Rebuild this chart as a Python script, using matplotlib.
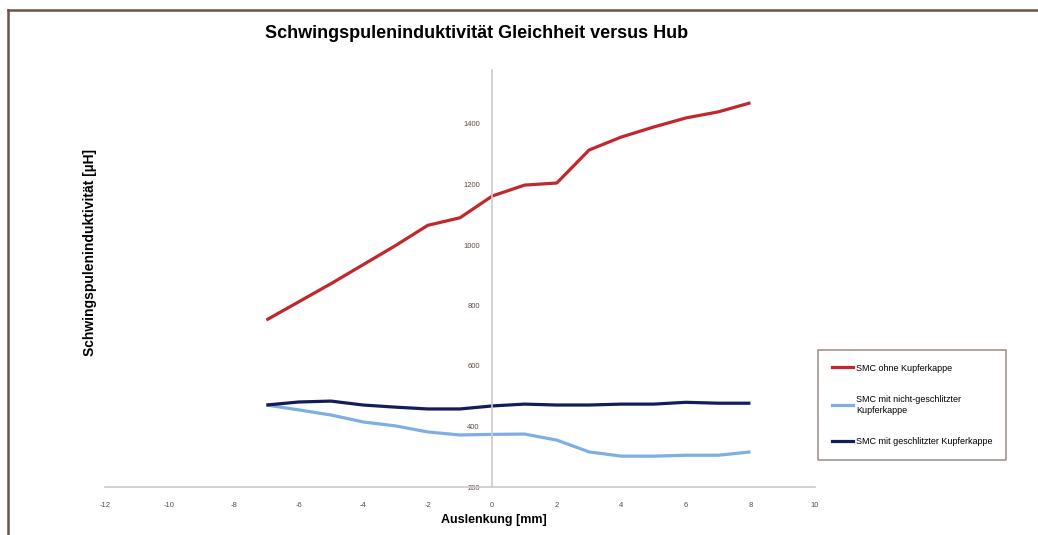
import numpy as np
import matplotlib
matplotlib.use("Agg")
from matplotlib import pyplot as plt
from matplotlib.lines import Line2D

# Auslenkung [mm]
hub = [-7, -6, -5, -4, -3, -2, -1, 0, 1, 2, 3, 4, 5, 6, 7, 8]
# Induktivitaet [uH]
ohne_kappe = [752, 812, 872, 935, 998, 1065, 1090, 1162, 1198, 1205, 1314, 1357, 1390, 1420, 1440, 1470]
nicht_geschlitzt = [471, 455, 438, 415, 402, 382, 372, 374, 375, 355, 316, 302, 302, 305, 305, 316]
geschlitzt = [471, 481, 484, 471, 464, 458, 458, 468, 474, 471, 471, 474, 474, 480, 477, 477]

labels = ["SMC ohne Kupferkappe",
          "SMC mit nicht-geschlitzter\nKupferkappe",
          "SMC mit geschlitzter Kupferkappe"]
xticks = [-12, -10, -8, -6, -4, -2, 0, 2, 4, 6, 8, 10]
yticks = [200, 400, 600, 800, 1000, 1200, 1400]

plt.rcParams['font.family'] = ['Liberation Sans', 'DejaVu Sans']

W, H = 1038, 535
fig = plt.figure(figsize=(W/100, H/100), dpi=100)
ax = fig.add_axes([105/W, (H-487)/H, 710/W, 417/H])

ax.plot(hub, ohne_kappe, color='#c1272d', lw=2.3, solid_capstyle='butt')
ax.plot(hub, nicht_geschlitzt, color='#7eaee2', lw=2.3, solid_capstyle='butt')
ax.plot(hub, geschlitzt, color='#141c5a', lw=2.3, solid_capstyle='butt')

ax.set_xlim(-12, 10)
ax.set_ylim(200, 200 + 417/0.3025)
ax.set_xticks(xticks)
ax.set_yticks(yticks)
ax.set_xticklabels([str(t) for t in xticks])
ax.set_yticklabels([str(t) for t in yticks])

for s in ['top', 'right']:
    ax.spines[s].set_visible(False)
ax.spines['left'].set_position(('data', 0))
ax.spines['left'].set_color('#cfcaca')
ax.spines['bottom'].set_color('#cfcaca')
ax.spines['left'].set_linewidth(1.2)
ax.spines['bottom'].set_linewidth(1.2)
ax.tick_params(axis='x', length=0, pad=11, labelsize=5.5, labelcolor='#5e4a42')
ax.tick_params(axis='y', length=0, pad=9, labelsize=5.5, labelcolor='#5e4a42')
ax.set_zorder(1)

fig.text(477/W, 1 - 33/H, "Schwingspuleninduktivität Gleichheit versus Hub",
         ha='center', va='center', fontsize=13, fontweight='bold')
fig.text(90/W, 1 - 252/H, "Schwingspuleninduktivität [µH]", rotation=90,
         ha='center', va='center', fontsize=10, fontweight='bold')
fig.text(494/W, 1 - 520/H, "Auslenkung [mm]", ha='center', va='center',
         fontsize=9, fontweight='bold')

handles = [Line2D([], [], color=c, lw=2.3) for c in ['#c1272d', '#7eaee2', '#141c5a']]
leg = fig.legend(handles, labels, loc='upper left', bbox_to_anchor=(818/W, 1 - 350/H),
                 fontsize=6.5, frameon=True, fancybox=False, handlelength=2.4,
                 handletextpad=0.3, labelspacing=2.5, borderpad=1.5, borderaxespad=0)
leg.get_frame().set_edgecolor('#8a7a74')
leg.get_frame().set_linewidth(1.2)

# outer chart border
border = '#6e5249'
fig.add_artist(Line2D([8/W, 1], [1 - 10/H, 1 - 10/H], color=border, lw=1.8, transform=fig.transFigure))
fig.add_artist(Line2D([8/W, 8/W], [0, 1 - 10/H], color=border, lw=1.8, transform=fig.transFigure))

fig.savefig('out.png', dpi=100)
